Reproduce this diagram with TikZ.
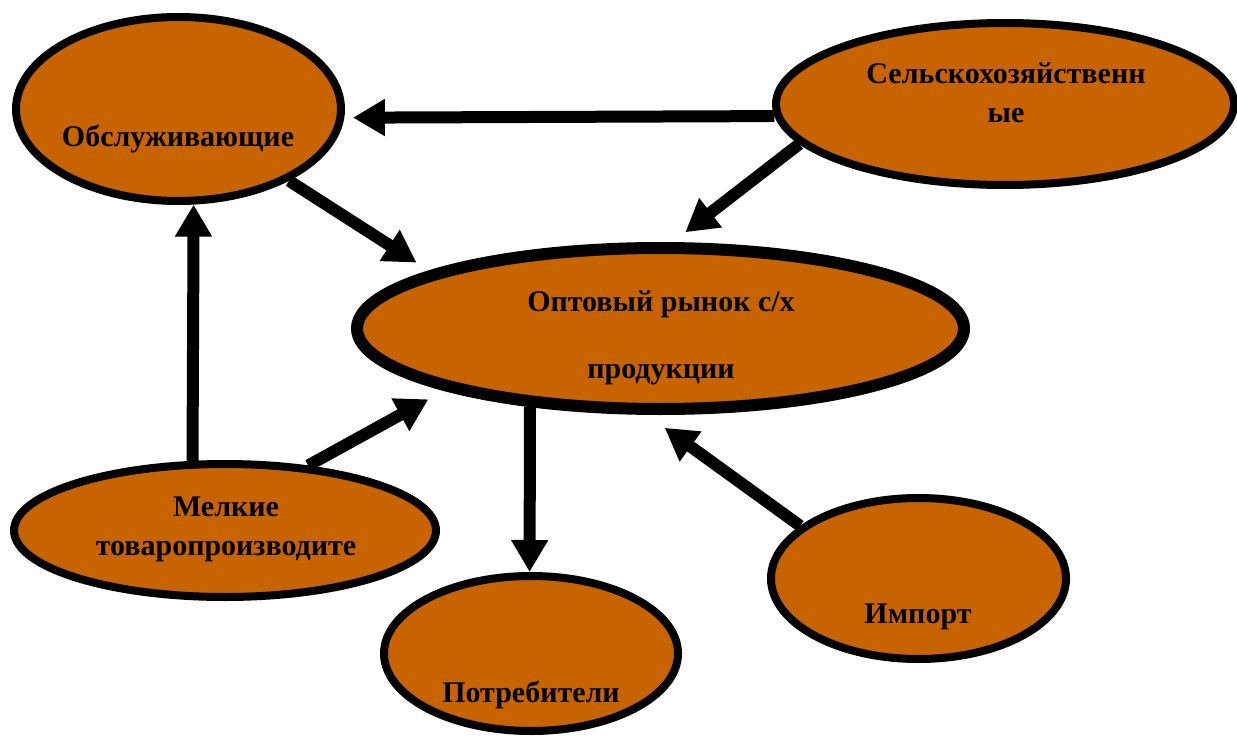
\documentclass[tikz,border=0pt]{standalone}
\usepackage{fontspec}
\setmainfont{Liberation Serif}
\definecolor{mkOrange}{HTML}{C86400}
\definecolor{mkLine}{HTML}{000000}
\usetikzlibrary{arrows.meta,shapes.geometric}

\begin{document}
\begin{tikzpicture}[
  x=0.5pt, y=-0.5pt,
  oval/.style={ellipse, draw=mkLine, fill=mkOrange, line width=4pt, inner sep=0pt},
  lbl/.style={font=\bfseries\fontsize{15}{19.5}\selectfont, align=center,
    anchor=base, inner sep=0pt},
  arr/.style={-{Triangle[length=16pt, width=17.5pt]}, line width=6pt, color=mkLine}
]
  \useasboundingbox (0,0) rectangle (1237,738);

  \node[oval, minimum width=162.5pt, minimum height=92pt] (obsl) at (178.5,109) {};
  \node[oval, minimum width=229pt, minimum height=81pt] (selh) at (1005,104) {};
  \node[oval, line width=6pt, minimum width=303.5pt, minimum height=80.5pt] (opt) at (660.5,328.5) {};
  \node[oval, minimum width=211pt, minimum height=66.5pt] (melk) at (225,530.5) {};
  \node[oval, minimum width=147pt, minimum height=77.5pt] (potr) at (531,653.5) {};
  \node[oval, minimum width=147.5pt, minimum height=80.5pt] (imp) at (918.5,578.5) {};

  \node[lbl] (obsltxt) at (178,147) {Обслуживающие};
  \node[lbl] (selhtxt) at (1006,123) {Сельскохозяйственн\\ые};
  \node[lbl] (opttxt) at (661,378) {Оптовый рынок с/х\\[14pt]продукции};
  \node[lbl] (melktxt) at (226,555) {Мелкие\\товаропроизводите};
  \node[lbl] (potrtxt) at (531,702) {Потребители};
  \node[lbl] (imptxt) at (918,623) {Импорт};

  \draw[arr, shorten >=4.3pt] (selh.183) -- (obsl.357);
  \draw[arr, shorten >=8pt] (selh.191) -- (opt.82);
  \draw[arr, shorten >=7.7pt] (obsl.327) -- (opt.166);
  \draw[arr] (melk.115) -- (obsl.279);
  \draw[arr, shorten >=9.2pt] (melk.38) -- (opt.196);
  \draw[arr] (opt.211) -- (potr.91);
  \draw[arr, shorten >=11pt] (imp.156) -- (opt.261);
\end{tikzpicture}
\end{document}
